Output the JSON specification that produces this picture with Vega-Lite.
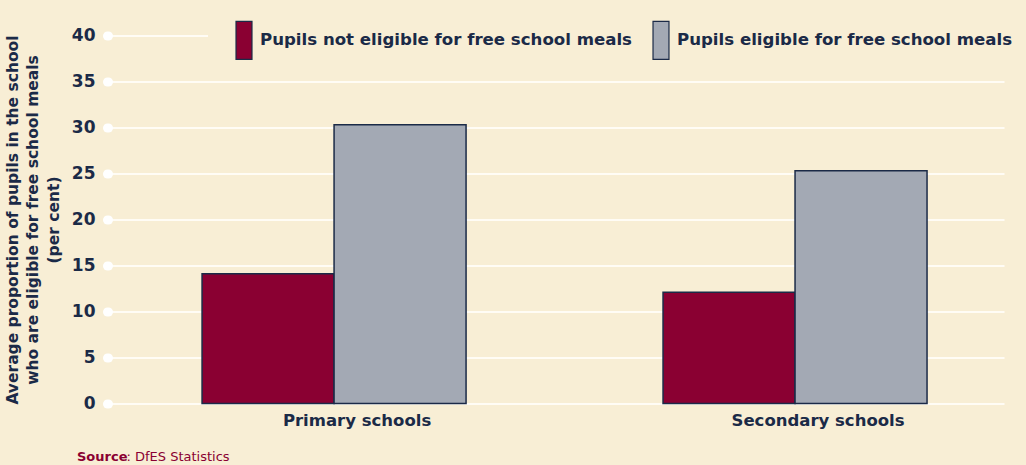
{
  "$schema": "https://vega.github.io/schema/vega-lite/v6.json",
  "width": 896,
  "height": 368,
  "autosize": {"type": "none"},
  "padding": {"left": 108, "top": 35.5, "right": 22, "bottom": 61.5},
  "background": "#f8eed5",
  "config": {"view": {"stroke": null}, "font": "DejaVu Sans"},
  "data": {
    "values": [
      {"school": "Primary schools", "group": "Pupils not eligible for free school meals", "value": 14.1},
      {"school": "Primary schools", "group": "Pupils eligible for free school meals", "value": 30.3},
      {"school": "Secondary schools", "group": "Pupils not eligible for free school meals", "value": 12.1},
      {"school": "Secondary schools", "group": "Pupils eligible for free school meals", "value": 25.3}
    ]
  },
  "title": {
    "text": "Source",
    "orient": "bottom",
    "anchor": "start",
    "frame": "group",
    "dx": -31,
    "offset": -13,
    "font": "DejaVu Sans",
    "fontSize": 13,
    "fontWeight": "bold",
    "color": "#8a0032"
  },
  "mark": {"type": "bar", "stroke": "#1b2a47", "strokeWidth": 1.5},
  "encoding": {
    "x": {
      "field": "school",
      "type": "nominal",
      "sort": ["Primary schools", "Secondary schools"],
      "scale": {"paddingInner": 0.4273, "paddingOuter": 0.1855, "align": 0.55},
      "axis": {
        "title": ": DfES Statistics",
        "titleX": 18,
        "titleY": 57,
        "titleAlign": "left",
        "titleAnchor": null,
        "titleBaseline": "alphabetic",
        "titleFont": "DejaVu Sans",
        "titleFontSize": 13,
        "titleFontWeight": "normal",
        "titleColor": "#8a0032",
        "labelAngle": 0,
        "labelFont": "DejaVu Sans",
        "labelFontWeight": "bold",
        "labelFontSize": 16.5,
        "labelColor": "#1b2a47",
        "labelPadding": 9,
        "labelOffset": 23,
        "ticks": false,
        "domain": false
      }
    },
    "xOffset": {
      "field": "group",
      "type": "nominal",
      "sort": ["Pupils not eligible for free school meals", "Pupils eligible for free school meals"],
      "scale": {"paddingInner": 0, "paddingOuter": 0}
    },
    "y": {
      "field": "value",
      "type": "quantitative",
      "scale": {"domain": [0, 40]},
      "axis": {
        "values": [0, 5, 10, 15, 20, 25, 30, 35, 40],
        "title": ["Average proportion of pupils in the school", "who are eligible for free school meals", "(per cent)"],
        "titleFont": "DejaVu Sans",
        "titleFontSize": 15.5,
        "titleFontWeight": "bold",
        "titleColor": "#1b2a47",
        "titleLineHeight": 20.5,
        "titleX": -88,
        "titleY": 184,
        "labelFont": "DejaVu Sans",
        "labelFontWeight": "bold",
        "labelFontSize": 17,
        "labelColor": "#1b2a47",
        "labelPadding": 12,
        "domain": false,
        "ticks": true,
        "tickSize": 1,
        "tickWidth": 9,
        "tickCap": "round",
        "tickColor": "#ffffff",
        "grid": true,
        "gridColor": "#fffcf5",
        "gridWidth": 2
      }
    },
    "color": {
      "field": "group",
      "type": "nominal",
      "scale": {
        "domain": ["Pupils not eligible for free school meals", "Pupils eligible for free school meals"],
        "range": ["#8a0032", "#a3a9b4"]
      },
      "legend": {
        "orient": "none",
        "legendX": 100,
        "legendY": -31.5,
        "direction": "horizontal",
        "title": null,
        "symbolType": "M-0.42,-1L0.42,-1L0.42,1L-0.42,1Z",
        "symbolSize": 1444,
        "symbolStrokeColor": "#1b2a47",
        "symbolStrokeWidth": 1.2,
        "symbolOpacity": 1,
        "labelFont": "DejaVu Sans",
        "labelFontWeight": "bold",
        "labelFontSize": 16.6,
        "labelColor": "#1b2a47",
        "labelOffset": -4,
        "labelLimit": 500,
        "columnPadding": 9,
        "padding": 16,
        "fillColor": "#f8eed5"
      }
    }
  }
}
